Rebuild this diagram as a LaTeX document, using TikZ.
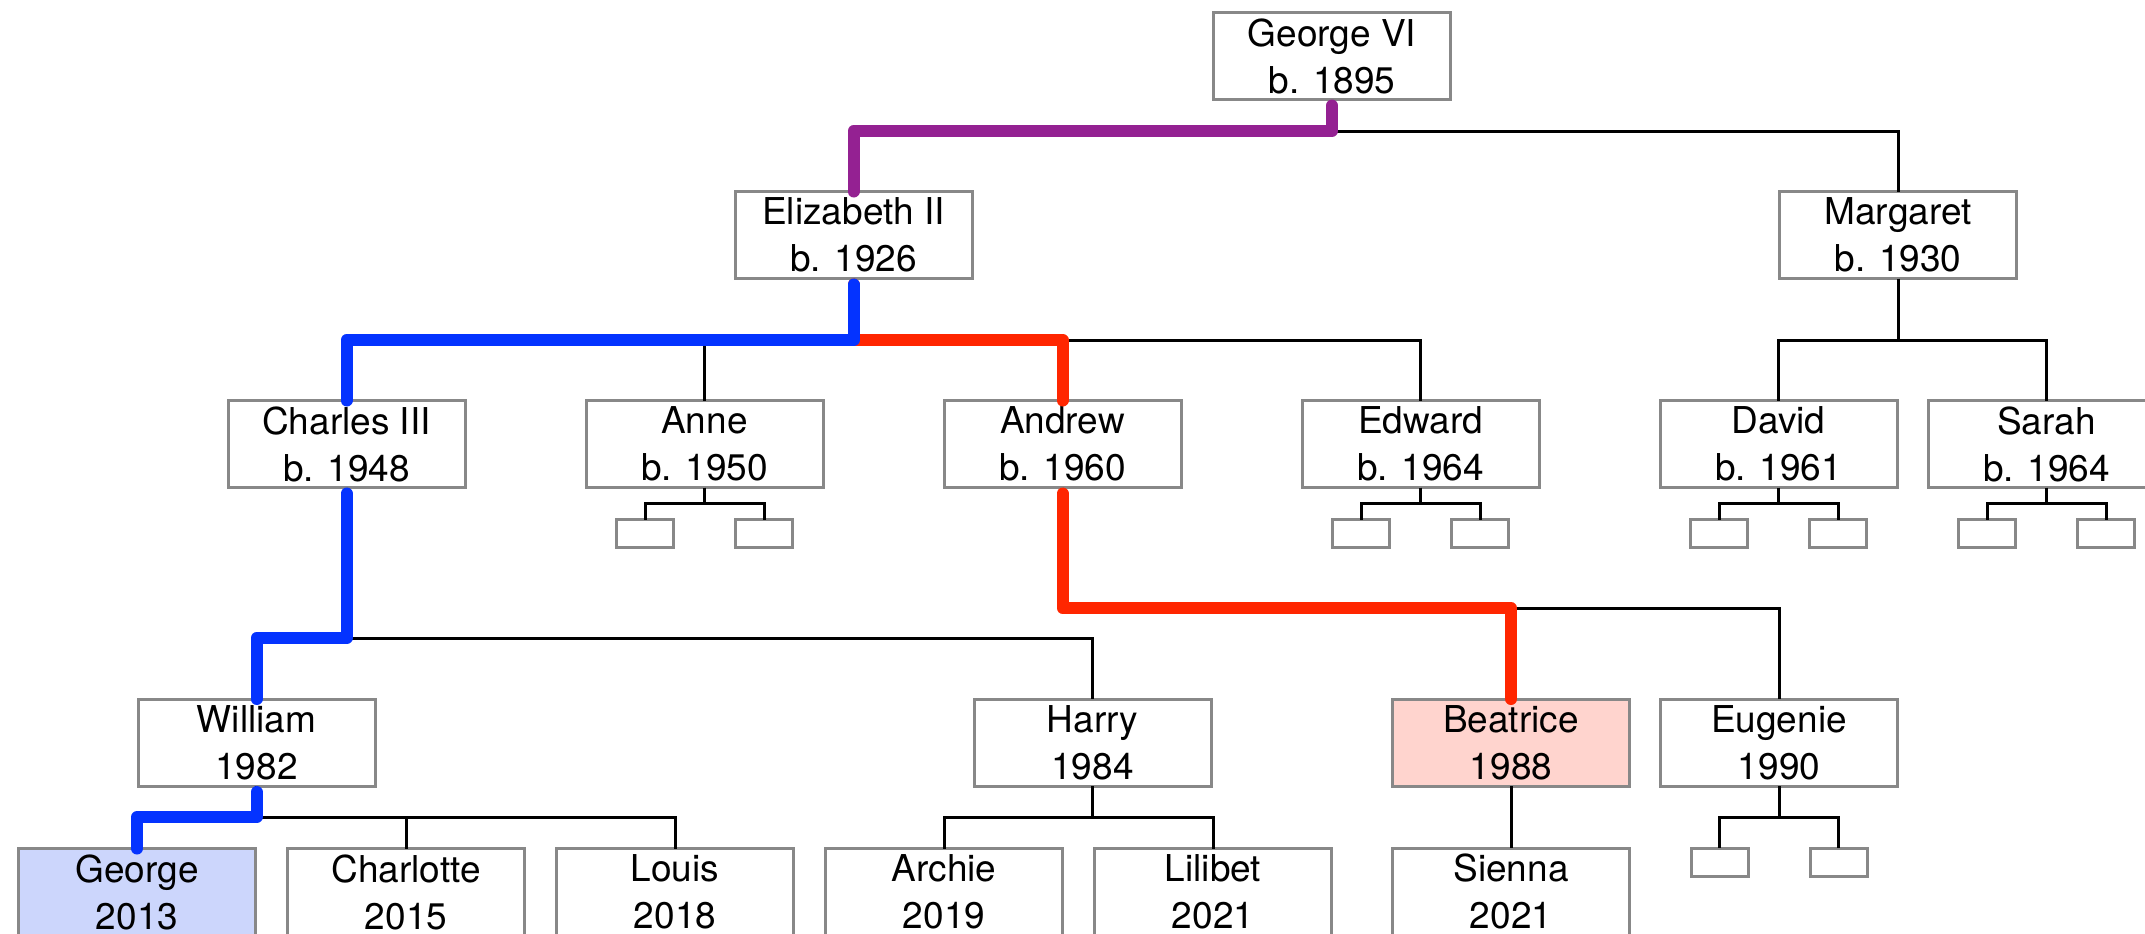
\documentclass[tikz,border=0pt]{standalone}
\usepackage{fontspec}
\setmainfont{TeX Gyre Heros}
\usepackage{tikz}
\usetikzlibrary{positioning}

\definecolor{boxgray}{HTML}{888888}
\definecolor{lineblue}{HTML}{0433FF}
\definecolor{linered}{HTML}{FF2600}
\definecolor{linepurple}{HTML}{942192}
\definecolor{fillblue}{HTML}{CCD6FC}
\definecolor{fillred}{HTML}{FFD4CE}

\begin{document}
\begin{tikzpicture}[
    x=0.5pt, y=-0.5pt,
    person/.style={rectangle, draw=boxgray, line width=1.5pt, fill=white, outer sep=0pt, inner sep=0pt, minimum width=118.5pt, minimum height=43.5pt, align=center, font=\fontsize{18.5}{23.5}\selectfont},
    stub/.style={rectangle, draw=boxgray, line width=1.5pt, fill=white, outer sep=0pt, inner sep=0pt, minimum width=28.5pt, minimum height=14pt},
    link/.style={line width=1.5pt},
    heir/.style={line width=6pt, line cap=round, line join=round}
]
\path[use as bounding box, clip] (0,0) rectangle (2145,933);

% generations 1 and 2
\node[person] (george6) at (1332,56) {George VI\\b. 1895};
\node[person] (eliz) at (853.5,235) {Elizabeth II\\b. 1926};
\node[person] (margaret) at (1898,235) {Margaret\\b. 1930};

% generation 3
\node[person] (charles) at (346.5,444) {Charles III\\b. 1948};
\node[person, right=60.5pt of charles] (anne) {Anne\\b. 1950};
\node[person, right=60.5pt of anne] (andrew) {Andrew\\b. 1960};
\node[person, right=60.5pt of andrew] (edward) {Edward\\b. 1964};
\node[person, right=60.5pt of edward] (david) {David\\b. 1961};
\node[person, right=15.5pt of david] (sarah) {Sarah\\b. 1964};

% generation 4
\node[person] (william) at (256.5,742.5) {William\\1982};
\node[person] (harry) at (1092.5,742.5) {Harry\\1984};
\node[person, fill=fillred] (beatrice) at (1511,742.5) {Beatrice\\1988};
\node[person, right=15.5pt of beatrice] (eugenie) {Eugenie\\1990};

% generation 5
\node[person, fill=fillblue] (george) at (137,892) {George\\2013};
\node[person, right=16pt of george] (charlotte) {Charlotte\\2015};
\node[person, right=16pt of charlotte] (louis) {Louis\\2018};
\node[person, right=16pt of louis] (archie) {Archie\\2019};
\node[person, right=16pt of archie] (lilibet) {Lilibet\\2021};
\node[person, below=31pt of beatrice] (sienna) {Sienna\\2021};

% empty children
\foreach \p/\s/\b in {anne/46/15.5, edward/46/15.5, david/46/15.5, sarah/46/15.5, eugenie/76/31} {
  \node[stub] (\p-l) at ([shift={(-59.5,\s)}]\p.south) {};
  \node[stub] (\p-r) at ([shift={(59.5,\s)}]\p.south) {};
  \draw[link] (\p.south) -- ++(0,\b) -| (\p-l.north);
  \draw[link] (\p.south) -- ++(0,\b) -| (\p-r.north);
}

% family lines
\foreach \a/\b/\d in {george6/margaret/31.5, eliz/anne/61.5, eliz/edward/61.5,
    margaret/david/61.5, margaret/sarah/61.5, charles/harry/150.5, andrew/eugenie/120.5,
    william/charlotte/31, william/louis/31, harry/archie/31, harry/lilibet/31}
  \draw[link] (\a.south) -- ++(0,\d) -| (\b.north);
\draw[link] (beatrice) -- (sienna);

% lines of succession
\draw[heir, linepurple] ([yshift=-3pt]george6.south) -- ++(0,25.5) -| (eliz.north);
\draw[heir, linered] ([yshift=-3pt]eliz.south) -- ++(0,55.5) -| (andrew.north);
\draw[heir, linered] ([yshift=-3pt]andrew.south) -- ++(0,114.5) -| (beatrice.north);
\draw[heir, lineblue] ([yshift=-3pt]eliz.south) -- ++(0,55.5) -| (charles.north);
\draw[heir, lineblue] ([yshift=-3pt]charles.south) -- ++(0,144.5) -| (william.north);
\draw[heir, lineblue] ([yshift=-3pt]william.south) -- ++(0,25) -| (george.north);

\end{tikzpicture}
\end{document}
